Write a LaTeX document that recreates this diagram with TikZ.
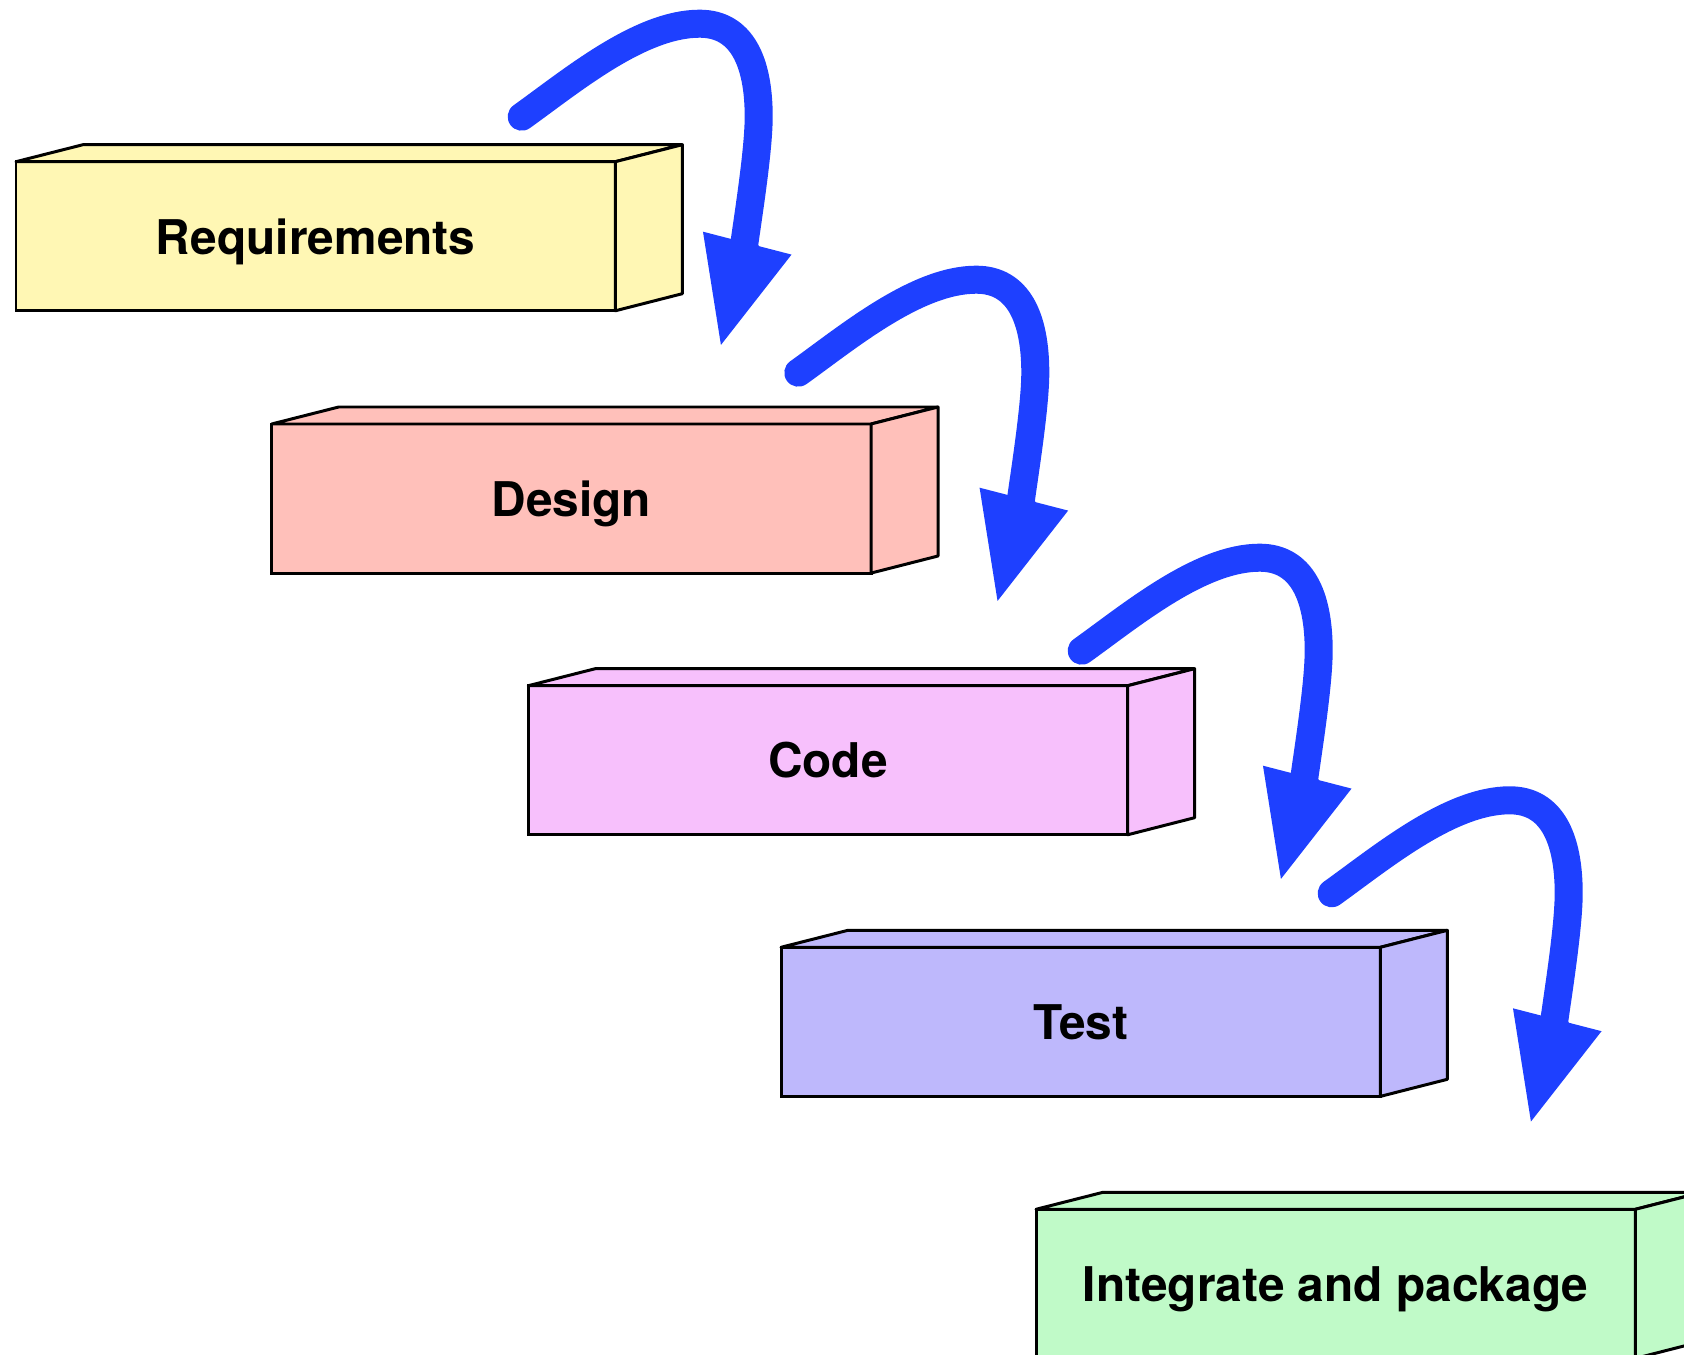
\documentclass[tikz,border=0pt]{standalone}
\usepackage{fontspec}
\setmainfont{TeX Gyre Heros}
\usepackage{tikz}
\usetikzlibrary{arrows.meta}
\definecolor{jaune}{RGB}{255,247,180}
\definecolor{saumon}{RGB}{255,192,186}
\definecolor{rose}{RGB}{247,192,252}
\definecolor{lavande}{RGB}{190,184,252}
\definecolor{vert}{RGB}{192,250,200}
\definecolor{bleu}{RGB}{30,64,255}
\begin{document}
\begin{tikzpicture}[x=0.01cm, y=-0.01cm]
\tikzset{bloc/.style={draw, line width=0.85pt, rectangle, anchor=north west, minimum width=5.99cm, minimum height=1.49cm, inner sep=0pt, outer sep=0pt, text depth=0pt, font=\bfseries\fontsize{13.6}{16}\selectfont},
face/.style={draw, line width=0.85pt, line join=round},
fleche/.style={draw=bleu, line width=0.28cm, line cap=round, -{Triangle[length=1.1cm, width=0.82cm]}}}
\clip (0, 0) rectangle (1684, 1355);
\node[bloc, fill=jaune] (B1) at (16, 161.7) {Requirements};
\node[bloc, fill=saumon] (B2) at (271.7, 424) {Design};
\node[bloc, fill=rose] (B3) at (528.3, 685.7) {Code};
\node[bloc, fill=lavande] (B4) at (781, 947.3) {Test};
\node[bloc, fill=vert] (B5) at (1036, 1209.3) {Integrate and package};
\foreach \b/\c in {B1/jaune, B2/saumon, B3/rose, B4/lavande, B5/vert} {
  \draw[face, fill=\c] (\b.north west) -- ++(67, -17) -- ++(599, 0) -- (\b.north east) -- cycle;
  \draw[face, fill=\c] (\b.north east) -- ++(67, -17) -- ++(0, 149) -- (\b.south east) -- cycle;
}
\coordinate (A1) at (521.7, 116.7);
\coordinate (A2) at (798.3, 372.7);
\coordinate (A3) at (1081.7, 650.7);
\coordinate (A4) at (1331.7, 893.3);
\foreach \a in {A1, A2, A3, A4}
  \draw[fleche] (\a) .. controls +(49, -35) and +(-60, 0) .. ++(178, -93) .. controls +(42, 0) and +(0, -55) .. ++(59, 93) .. controls +(0, 50) and +(15, -58) .. ++(-39, 233);
\end{tikzpicture}
\end{document}
